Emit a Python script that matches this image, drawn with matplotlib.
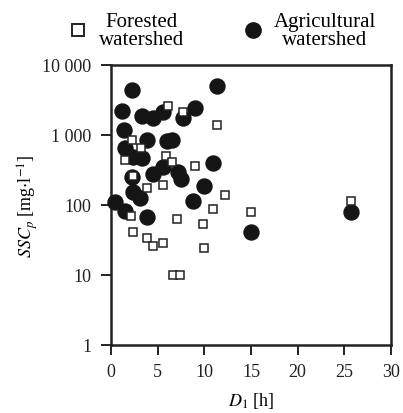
import matplotlib
matplotlib.use("Agg")
import matplotlib.pyplot as plt
from matplotlib.lines import Line2D

plt.rcParams['font.family'] = ['Liberation Serif', 'DejaVu Serif']
plt.rcParams['mathtext.fontset'] = 'stix'

# Forested watershed (open squares)
forest_x = [6.1, 7.7, 11.4, 2.25, 3.2, 1.5, 5.9, 6.5, 9.0, 2.4, 3.9, 5.6, 12.2,
            10.9, 15.0, 2.1, 7.1, 9.9, 2.4, 3.9, 4.5, 5.6, 10.0, 6.6, 7.4, 25.7]
forest_y = [2600, 2140, 1400, 850, 650, 440, 500, 410, 360, 260, 175, 193, 138,
            88, 80, 70, 63, 53, 41, 34, 26, 29, 24, 10, 10, 114]

# Agricultural watershed (filled circles)
agri_x = [2.25, 11.4, 1.2, 3.3, 4.5, 5.6, 7.7, 9.0, 1.4, 3.9, 6.0, 6.5, 1.5,
          2.4, 3.3, 4.5, 5.6, 7.2, 7.5, 10.9, 2.25, 2.4, 3.1, 10.0, 8.8, 0.4,
          1.5, 3.9, 15.0, 25.7]
agri_y = [4400, 5000, 2200, 1870, 1740, 2130, 1740, 2430, 1180, 850, 820, 850,
          650, 490, 470, 280, 350, 295, 235, 400, 250, 154, 125, 187, 114, 110,
          82, 67, 41, 80]

xticks = [0, 5, 10, 15, 20, 25, 30]
yticks = [1, 10, 100, 1000, 10000]
ytick_labels = ['1', '10', '100', '1 000', '10 000']

fig = plt.figure(figsize=(4.03, 4.14), dpi=100)
ax = fig.add_axes([0.2754, 0.1643, 0.6948, 0.6763])

ax.plot(agri_x, agri_y, linestyle='none', marker='o', markersize=10.8,
        markerfacecolor='#151515', markeredgecolor='#151515', clip_on=False, zorder=3)
ax.plot(forest_x, forest_y, linestyle='none', marker='s', markersize=6.3,
        markerfacecolor='white', markeredgecolor='#222222', markeredgewidth=1.1,
        clip_on=False, zorder=4)

ax.set_yscale('log')
ax.set_xlim(0, 30)
ax.set_ylim(1, 10000)
ax.set_xticks(xticks)
ax.set_xticklabels([str(t) for t in xticks])
ax.set_yticks(yticks)
ax.set_yticklabels(ytick_labels)
ax.minorticks_off()
ax.tick_params(direction='out', length=7, width=1.4, labelsize=13, colors='#222222')
ax.tick_params(axis='y', pad=7)
ax.tick_params(axis='x', pad=6)
for s in ax.spines.values():
    s.set_linewidth(1.8)
    s.set_color('#222222')

ax.set_xlabel(r'$D_1$ [h]', fontsize=13, labelpad=7)
ax.set_ylabel(r'$SSC_p$ [mg$\cdot$l$^{-1}$]', fontsize=13, labelpad=2)

# legend
handles = [Line2D([], [], linestyle='none', marker='s', markersize=8,
                  markerfacecolor='white', markeredgecolor='#222222', markeredgewidth=1.4),
           Line2D([], [], linestyle='none', marker='o', markersize=11,
                  markerfacecolor='#151515', markeredgecolor='#151515')]
leg = fig.legend(handles, ['Forested\nwatershed', 'Agricultural\nwatershed'],
                 loc='upper center', bbox_to_anchor=(0.55, 1.015), ncol=2,
                 frameon=False, fontsize=15, handletextpad=0.5, columnspacing=2.8,
                 handlelength=1.0, labelspacing=0.2)
for t in leg.get_texts():
    t.set_multialignment('center')
    t.set_linespacing(0.95)

fig.savefig('out.png', dpi=100)
